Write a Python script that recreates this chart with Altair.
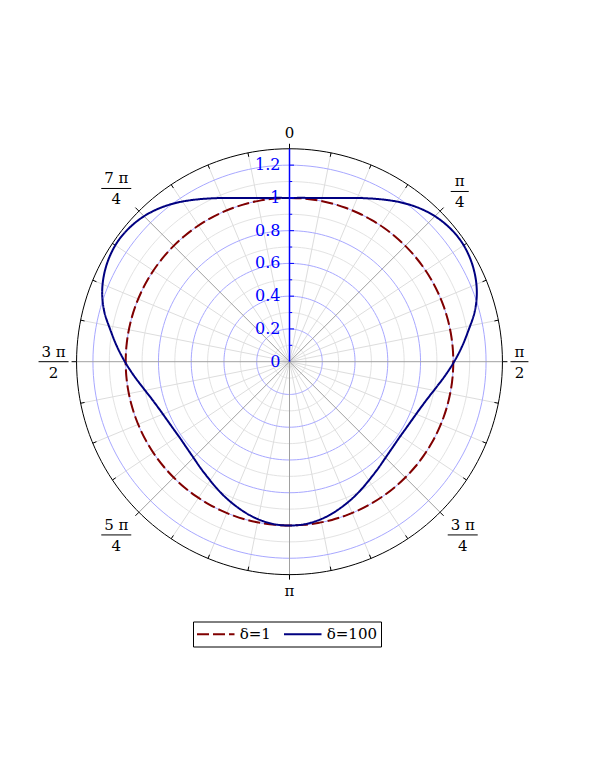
import altair as alt
import pandas as pd

# ---------------- data ----------------
theta_deg = [0, 5, 10, 15, 20, 25, 30, 35, 40, 45, 50, 55, 60, 65, 70, 75, 80, 85,
             90, 95, 100, 105, 110, 115, 120, 125, 130, 135, 140, 145, 150, 155, 160, 165, 170, 175,
             180, 185, 190, 195, 200, 205, 210, 215, 220, 225, 230, 235, 240, 245, 250, 255, 260, 265,
             270, 275, 280, 285, 290, 295, 300, 305, 310, 315, 320, 325, 330, 335, 340, 345, 350, 355, 360]

r_delta1 = [1.000, 1.000, 1.000, 1.000, 1.000, 1.000, 1.000, 1.000, 1.000, 1.000, 1.000, 1.000,
            1.000, 1.000, 1.000, 1.000, 1.000, 1.000, 1.000, 1.000, 1.000, 1.000, 1.000, 1.000,
            1.000, 1.000, 1.000, 1.000, 1.000, 1.000, 1.000, 1.000, 1.000, 1.000, 1.000, 1.000,
            1.000, 1.000, 1.000, 1.000, 1.000, 1.000, 1.000, 1.000, 1.000, 1.000, 1.000, 1.000,
            1.000, 1.000, 1.000, 1.000, 1.000, 1.000, 1.000, 1.000, 1.000, 1.000, 1.000, 1.000,
            1.000, 1.000, 1.000, 1.000, 1.000, 1.000, 1.000, 1.000, 1.000, 1.000, 1.000, 1.000, 1.000]

r_delta100 = [1.000, 1.004, 1.015, 1.035, 1.064, 1.101, 1.143, 1.187, 1.226, 1.256, 1.274, 1.280,
              1.271, 1.250, 1.217, 1.170, 1.110, 1.057, 1.005, 0.955, 0.909, 0.872, 0.846, 0.829,
              0.819, 0.815, 0.819, 0.829, 0.846, 0.866, 0.891, 0.917, 0.942, 0.966, 0.985, 0.997,
              1.000, 0.997, 0.985, 0.966, 0.942, 0.917, 0.891, 0.866, 0.846, 0.829, 0.819, 0.815,
              0.819, 0.829, 0.846, 0.872, 0.909, 0.955, 1.005, 1.057, 1.110, 1.170, 1.217, 1.250,
              1.271, 1.280, 1.274, 1.256, 1.226, 1.187, 1.143, 1.101, 1.064, 1.035, 1.015, 1.004, 1.000]

series_names = ["δ=1", "δ=100"]
series_colors = ["#800000", "#000080"]
series_dashes = [[12, 4], [1, 0]]

radial_tick_values = [0.1, 0.2, 0.3, 0.4, 0.5, 0.6, 0.7, 0.8, 0.9, 1.0, 1.1, 1.2]
radial_label_values = [0.0, 0.2, 0.4, 0.6, 0.8, 1.0, 1.2]
radial_label_texts = ["0", "0.2", "0.4", "0.6", "0.8", "1", "1.2"]

angle_label_deg = [0, 45, 90, 135, 180, 225, 270, 315]
angle_label_num = ["0", "π", "π", "3 π", "π", "5 π", "3 π", "7 π"]
angle_label_den = ["", "4", "2", "4", "", "4", "2", "4"]

minor_circle_r = [0.1, 0.3, 0.5, 0.7, 0.9, 1.1]
major_circle_r = [0.2, 0.4, 0.6, 0.8, 1.0, 1.2]
outer_r = [1.3]
spoke_deg = [i * 11.25 for i in range(32)]

# ---------------- page geometry ----------------
UNIT = 163.8          # pixels per radial unit
CX, CY = 289.5, 361.7 # page position of the pole
W, H = 579, 700
XMIN = (8 - CX) / UNIT
XMAX = XMIN + W / UNIT
YMAX = (CY - 8) / UNIT
YMIN = YMAX - H / UNIT
R_OUT = outer_r[0]

xs = alt.Scale(domain=[XMIN, XMAX], nice=False, zero=False)
ys = alt.Scale(domain=[YMIN, YMAX], nice=False, zero=False)


def X(f):
    return alt.X(f"{f}:Q", scale=xs, axis=None)


def Y(f):
    return alt.Y(f"{f}:Q", scale=ys, axis=None)


PX = "datum.r*sin(datum.t*PI/180)"
PY = "datum.r*cos(datum.t*PI/180)"
FONT = "DejaVu Serif"

# ---------------- grid circles ----------------
def circle_df(radii):
    return pd.DataFrame([{"r": r, "t": t} for r in radii for t in range(0, 361, 2)])


def circles(radii, color, width=1.0):
    return alt.Chart(circle_df(radii)).mark_line(color=color, strokeWidth=width).transform_calculate(
        x=PX, y=PY
    ).encode(x=X("x"), y=Y("y"), detail="r:N", order="t:Q")


minor_circles = circles(minor_circle_r, "#e3e3e3")
major_circles = circles(major_circle_r, "#a8a8ff")
outer_circle = circles(outer_r, "#000000")

# ---------------- spokes ----------------
spokes = pd.DataFrame({"t": spoke_deg})
spokes["major"] = [abs(t % 45) < 1e-9 for t in spoke_deg]


def spoke_layer(major, color, r0, r1, width=1.0):
    return alt.Chart(spokes[spokes["major"] == major]).mark_rule(color=color, strokeWidth=width).transform_calculate(
        x0=f"{r0}*sin(datum.t*PI/180)", y0=f"{r0}*cos(datum.t*PI/180)",
        x1=f"{r1}*sin(datum.t*PI/180)", y1=f"{r1}*cos(datum.t*PI/180)",
    ).encode(x=X("x0"), y=Y("y0"), x2="x1:Q", y2="y1:Q")


minor_spokes = spoke_layer(False, "#dddddd", 0, R_OUT)
major_spokes = spoke_layer(True, "#a0a0a0", 0, R_OUT)
minor_ticks = spoke_layer(False, "#000000", R_OUT - 4 / UNIT, R_OUT)
major_ticks = spoke_layer(True, "#000000", R_OUT, R_OUT + 5 / UNIT)

# ---------------- curves ----------------
curve_df = pd.concat([
    pd.DataFrame({"t": theta_deg, "r": r_delta1, "series": series_names[0]}),
    pd.DataFrame({"t": theta_deg, "r": r_delta100, "series": series_names[1]}),
])
curves = alt.Chart(curve_df).mark_line(strokeWidth=2, interpolate="cardinal").transform_calculate(
    x=PX, y=PY
).encode(
    x=X("x"), y=Y("y"),
    color=alt.Color("series:N", scale=alt.Scale(domain=series_names, range=series_colors), title=None),
    strokeDash=alt.StrokeDash("series:N", scale=alt.Scale(domain=series_names, range=series_dashes), title=None),
    order="t:Q",
)

# ---------------- radial (blue) axis ----------------
axis_line = alt.Chart(pd.DataFrame({"r0": [0.0], "r1": [R_OUT]})).mark_rule(color="#0000ff", strokeWidth=1.5).transform_calculate(
    x0="0"
).encode(x=X("x0"), y=Y("r0"), y2="r1:Q")

tick_df = pd.DataFrame({"v": radial_tick_values})
tick_df["major"] = [round(v * 10) % 2 == 0 for v in radial_tick_values]
axis_ticks = alt.Chart(tick_df).mark_rule(color="#0000ff", strokeWidth=1).transform_calculate(
    x0="0", x1=f"datum.major ? {4.5 / UNIT} : {2.7 / UNIT}"
).encode(x=X("x0"), x2="x1:Q", y=Y("v"))

axis_labels = alt.Chart(pd.DataFrame({"v": radial_label_values, "lab": radial_label_texts})).mark_text(
    color="#0000ff", font=FONT, fontSize=16, align="right", baseline="middle", dx=-9
).transform_calculate(x0="0").encode(x=X("x0"), y=Y("v"), text="lab:N")

# ---------------- angular labels ----------------
lab_df = pd.DataFrame({"t": angle_label_deg, "num": angle_label_num, "den": angle_label_den})
lab_base = alt.Chart(lab_df).transform_calculate(
    s="sin(datum.t*PI/180)", c="cos(datum.t*PI/180)",
    frac="datum.den != ''",
).transform_calculate(
    hw="datum.frac ? 6 + 3*length(datum.num) : 5",
    hh="datum.frac ? 19 : 8",
).transform_calculate(
    rr=f"{R_OUT} + (8 + abs(datum.s)*datum.hw + abs(datum.c)*datum.hh)/{UNIT}",
).transform_calculate(
    cx="datum.rr*datum.s", cy="datum.rr*datum.c",
).transform_calculate(
    bx1=f"datum.cx - datum.hw/{UNIT}", bx2=f"datum.cx + datum.hw/{UNIT}",
)

single_labels = lab_base.transform_filter("!datum.frac").mark_text(
    font=FONT, fontSize=15, color="black", align="center", baseline="middle"
).encode(x=X("cx"), y=Y("cy"), text="num:N")
num_labels = lab_base.transform_filter("datum.frac").mark_text(
    font=FONT, fontSize=15, color="black", align="center", baseline="middle", dy=-10
).encode(x=X("cx"), y=Y("cy"), text="num:N")
den_labels = lab_base.transform_filter("datum.frac").mark_text(
    font=FONT, fontSize=15, color="black", align="center", baseline="middle", dy=11
).encode(x=X("cx"), y=Y("cy"), text="den:N")
bars = lab_base.transform_filter("datum.frac").mark_rule(color="black", strokeWidth=1).encode(
    x=X("bx1"), x2="bx2:Q", y=Y("cy")
)

chart = alt.layer(
    minor_circles, minor_spokes, major_circles, major_spokes, outer_circle,
    minor_ticks, major_ticks, curves, axis_line, axis_ticks, axis_labels,
    single_labels, num_labels, den_labels, bars,
).properties(
    width=W, height=H, padding=0, autosize="none"
).configure_view(
    strokeWidth=0
).configure_legend(
    orient="none", legendX=185, legendY=613.5, direction="horizontal",
    symbolType="M-2.5,0H2.5", symbolSize=225, symbolStrokeWidth=2, symbolOffset=10.25,
    labelFont=FONT, labelFontSize=15, labelColor="black", labelOffset=15.5,
    columnPadding=9, padding=4, strokeColor="black", fillColor="white",
)

chart.save("out.html", embed_options={"renderer": "svg", "actions": False})
